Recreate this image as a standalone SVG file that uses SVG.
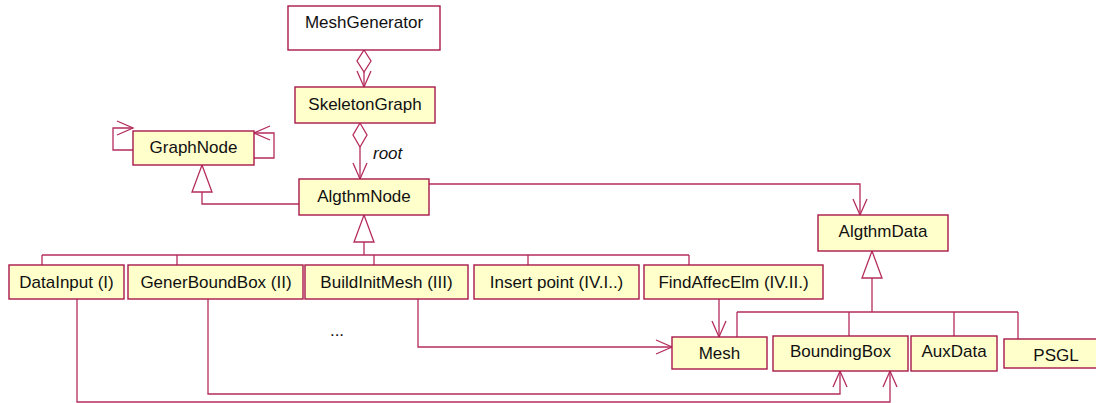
<svg xmlns="http://www.w3.org/2000/svg" width="1096" height="403" viewBox="0 0 1096 403">
  <style>
    .box { fill: #ffffcc; stroke: #a8184a; stroke-width: 1.4; }
    .plain { fill: #ffffff; stroke: #a8184a; stroke-width: 1.4; }
    .lbl { font-family: "Liberation Sans", Arial, sans-serif; font-size: 17px; fill: #111111; text-anchor: middle; }
    .role { font-family: "Liberation Sans", Arial, sans-serif; font-size: 17px; font-style: italic; fill: #111111; }
    .ln { fill: none; stroke: #b42c5c; stroke-width: 1.3; }
    .arr { fill: none; stroke: #b42c5c; stroke-width: 1.3; marker-end: url(#open); }
    .tri { fill: #ffffff; stroke: #b42c5c; stroke-width: 1.3; }
  </style>
  <defs>
    <marker id="open" viewBox="-17 -9 19 18" markerWidth="19" markerHeight="18" refX="0" refY="0" orient="auto" markerUnits="userSpaceOnUse" overflow="visible">
      <path d="M-16,-7 L0,0 L-16,7" fill="none" stroke="#b42c5c" stroke-width="1.3"/>
    </marker>
  </defs>

  <rect width="1096" height="403" fill="#ffffff"/>

  <g id="connectors">
    <!-- MeshGenerator aggregates SkeletonGraph -->
    <polygon class="tri" points="364,50 371,61 364,72 357,61"/>
    <path class="arr" d="M364,72 V87"/>
    <!-- SkeletonGraph aggregates AlgthmNode (root) -->
    <polygon class="tri" points="360,123 367,135 360,147 353,135"/>
    <path class="arr" d="M360,147 V179"/>
    <!-- GraphNode self associations -->
    <path class="arr" d="M133,150 H113 V128 H133"/>
    <path class="arr" d="M254,158 H274 V133 H254"/>
    <!-- AlgthmNode specialises GraphNode -->
    <path class="ln" d="M299,204 H202 V192"/>
    <polygon class="tri" points="202,165 212,192 192,192"/>
    <!-- algorithm steps specialise AlgthmNode -->
    <polygon class="tri" points="364,215 374,242 354,242"/>
    <path class="ln" d="M364,242 V255 M42,255 H689 M42,255 V265 M177,255 V265 M374,255 V265 M528,255 V265 M689,255 V265"/>
    <!-- AlgthmNode uses AlgthmData -->
    <path class="arr" d="M429,184 H860 V215"/>
    <!-- data classes specialise AlgthmData -->
    <polygon class="tri" points="872,251 882,278 862,278"/>
    <path class="ln" d="M872,278 V312 M737,312 H1018 M737,312 V337 M849,312 V336 M954,312 V336 M1018,312 V339"/>
    <!-- step dependencies on data -->
    <path class="arr" d="M719,299 V337"/>
    <path class="arr" d="M418,299 V347 H672"/>
    <path class="arr" d="M208,299 V394 H840 V371"/>
    <path class="arr" d="M77,299 V402 H890 V371"/>
  </g>

  <g id="MeshGenerator">
    <rect class="plain" x="288" y="6" width="152" height="44"/>
    <text class="lbl" x="364" y="28">MeshGenerator</text>
  </g>
  <g id="SkeletonGraph">
    <rect class="box" x="295" y="87" width="140" height="36"/>
    <text class="lbl" x="365" y="110">SkeletonGraph</text>
  </g>
  <text class="role" x="373" y="159">root</text>
  <g id="GraphNode">
    <rect class="box" x="133" y="131" width="121" height="34"/>
    <text class="lbl" x="193.5" y="153">GraphNode</text>
  </g>
  <g id="AlgthmNode">
    <rect class="box" x="299" y="179" width="130" height="36"/>
    <text class="lbl" x="364" y="202">AlgthmNode</text>
  </g>
  <g id="AlgthmData">
    <rect class="box" x="818" y="215" width="130" height="36"/>
    <text class="lbl" x="883" y="237">AlgthmData</text>
  </g>

  <g id="DataInput">
    <rect class="box" x="9" y="265" width="115" height="34"/>
    <text class="lbl" x="66.5" y="288">DataInput (I)</text>
  </g>
  <g id="GenerBoundBox">
    <rect class="box" x="128" y="265" width="175" height="34"/>
    <text class="lbl" x="216" y="288">GenerBoundBox (II)</text>
  </g>
  <g id="BuildInitMesh">
    <rect class="box" x="305" y="265" width="163" height="34"/>
    <text class="lbl" x="386.5" y="288">BuildInitMesh (III)</text>
  </g>
  <g id="InsertPoint">
    <rect class="box" x="474" y="265" width="165" height="34"/>
    <text class="lbl" x="556.5" y="288">Insert point (IV.I..)</text>
  </g>
  <g id="FindAffecElm">
    <rect class="box" x="644" y="265" width="179" height="34"/>
    <text class="lbl" x="733.5" y="288">FindAffecElm (IV.II.)</text>
  </g>

  <text class="lbl" x="337" y="336">...</text>

  <g id="Mesh">
    <rect class="box" x="672" y="337" width="95" height="32"/>
    <text class="lbl" x="719.5" y="359">Mesh</text>
  </g>
  <g id="BoundingBox">
    <rect class="box" x="773" y="336" width="135" height="35"/>
    <text class="lbl" x="840.5" y="357">BoundingBox</text>
  </g>
  <g id="AuxData">
    <rect class="box" x="911" y="336" width="86" height="35"/>
    <text class="lbl" x="954" y="357">AuxData</text>
  </g>
  <g id="PSGL">
    <rect class="box" x="1004" y="339" width="100" height="29"/>
    <text class="lbl" x="1056" y="361">PSGL</text>
  </g>
</svg>
